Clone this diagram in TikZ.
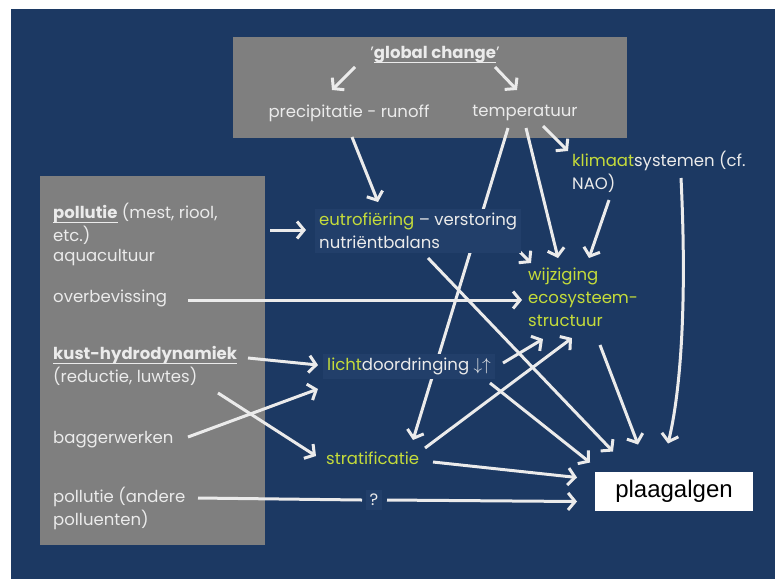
\documentclass[tikz,border=0pt]{standalone}
\usepackage{fontspec}
\setmainfont{Poppins}
\newfontfamily\boxfont{Liberation Sans}
\usetikzlibrary{arrows.meta,calc,positioning}
\definecolor{navy}{HTML}{1C3963}
\definecolor{panel}{HTML}{7F7F7F}
\definecolor{lime}{HTML}{C5DC3A}
\definecolor{chalk}{HTML}{EBEBEB}
\definecolor{shade}{HTML}{223F6A}
\pgfdeclarelayer{back}
\pgfdeclarelayer{edges}
\pgfsetlayers{back,edges,main}
\newcommand{\hl}[1]{\textcolor{lime}{#1}}
\newcommand{\hd}[1]{\setbox0\hbox{\textbf{#1}}\rlap{\smash{\rule[-4.5pt]{\wd0}{1.3pt}}}\box0\relax}

\begin{document}
\begin{tikzpicture}[x=1pt,y=-1pt,
  txt/.style={text=chalk,font=\fontsize{16.5}{23}\selectfont,inner sep=0pt,align=left},
  tag/.style={txt,fill=shade,inner sep=4pt},
  arr/.style={draw=chalk,line width=3pt,-{Straight Barb[length=7pt,width=17pt]}},
  lin/.style={draw=chalk,line width=3pt}]
\useasboundingbox (0,0) rectangle (775,579);

\begin{pgfonlayer}{back}
\fill[white] (0,0) rectangle (775,579);
\fill[navy] (11,9) rectangle (775,579);
\fill[panel] (233,37) rectangle (627,138);
\fill[panel] (40,176) rectangle (265,545);
\end{pgfonlayer}

\node[txt] (gc) at (435,55) {'\hd{global change}'};
\node[txt] (prec) at (349,113) {precipitatie - runoff};
\node[txt] (temp) at (525,113) {temperatuur};
\node[txt,anchor=west] (klim) at (572,172) {\hl{klimaat}systemen (cf.\\NAO)};
\node[tag,anchor=west] (eutro) at (315,231) {\hl{eutrofiëring} -- verstoring\\nutriëntbalans};
\node[txt,anchor=west,text=lime] (wijz) at (528,297) {wijziging\\ecosysteem-\\structuur};
\node[tag,anchor=west] (licht) at (323,366) {\hl{licht}doordringing $\downarrow\uparrow$};
\node[txt,anchor=west,text=lime] (strat) at (326,458) {stratificatie};
\node[tag] (q) at (374,500) {?};
\node[fill=white,minimum width=158pt,minimum height=39pt,inner sep=0pt,font=\boxfont\fontsize{24}{28}\selectfont] (plaag) at (674,491.5) {plaagalgen};

\node[txt,anchor=west] (poll) at (53,224) {\hd{pollutie} (mest, riool,\\etc.)};
\node[txt,anchor=west] (aqua) at (53,258) {aquacultuur};
\node[txt,anchor=west] (overb) at (53,298) {overbevissing};
\node[txt,anchor=west] (kust) at (53,366) {\hd{kust-hydrodynamiek}\\(reductie, luwtes)};
\node[txt,anchor=west] (bagger) at (53,440) {baggerwerken};
\node[txt,anchor=west] (polla) at (53,508) {pollutie (andere\\polluenten)};

\begin{pgfonlayer}{edges}
\draw[arr] ($(gc)+(-80,12)$) -- ($(prec)+(-17,-23)$);
\draw[arr] ($(gc)+(60,12)$) -- ($(temp)+(-8,-23)$);
\draw[arr] ($(prec)+(3,24)$) -- ($(eutro.west)+(63,-29)$);
\draw[arr] ($(temp)+(18,13)$) -- ($(klim.west)+(-4,-21)$);
\draw[arr] ($(temp)+(1,15)$) -- ($(wijz.west)+(30,-39)$);
\draw[arr] ($(temp)+(-17,15)$) -- ($(strat.west)+(87,-18)$);
\draw[arr] ($(klim.west)+(37,28)$) -- ($(wijz.west)+(61,-39)$);
\draw[arr] ($(klim.west)+(109,6)$) .. controls (687,300) and (681,390) .. ($(plaag)+(-6,-48)$);
\draw[arr] ($(eutro.west)+(190,6)$) -- ($(wijz.west)+(3,-34)$);
\draw[arr] ($(eutro.west)+(113,27)$) -- ($(plaag)+(-61,-40)$);

\draw[arr] ($(poll.west)+(217,6)$) -- ($(eutro.west)+(-9,-1)$);
\draw[arr] ($(overb.west)+(135,2)$) -- ($(wijz.west)+(-6,3)$);
\draw[arr] ($(kust.west)+(195,-8)$) -- ($(licht.west)+(-5,-1)$);
\draw[arr] ($(bagger.west)+(135,-3)$) -- ($(licht.west)+(-5,23)$);
\draw[arr] ($(kust.west)+(165,27)$) -- ($(strat.west)+(-10,-2)$);

\draw[arr] ($(licht.west)+(180,-3)$) -- ($(wijz.west)+(15,42)$);
\draw[arr] ($(strat.west)+(99,-10)$) -- ($(wijz.west)+(44,41)$);
\draw[arr] ($(licht.west)+(167,17)$) -- ($(plaag)+(-84,-29)$);
\draw[arr] ($(wijz.west)+(72,48)$) -- ($(plaag)+(-36,-47)$);
\draw[arr] ($(strat.west)+(107,4)$) -- ($(plaag)+(-97,-14)$);
\draw[lin] ($(polla.west)+(145,-10)$) -- ($(q)+(-12,0)$);
\draw[arr] ($(q)+(13,0)$) -- ($(plaag)+(-97,10)$);
\end{pgfonlayer}

\end{tikzpicture}
\end{document}
